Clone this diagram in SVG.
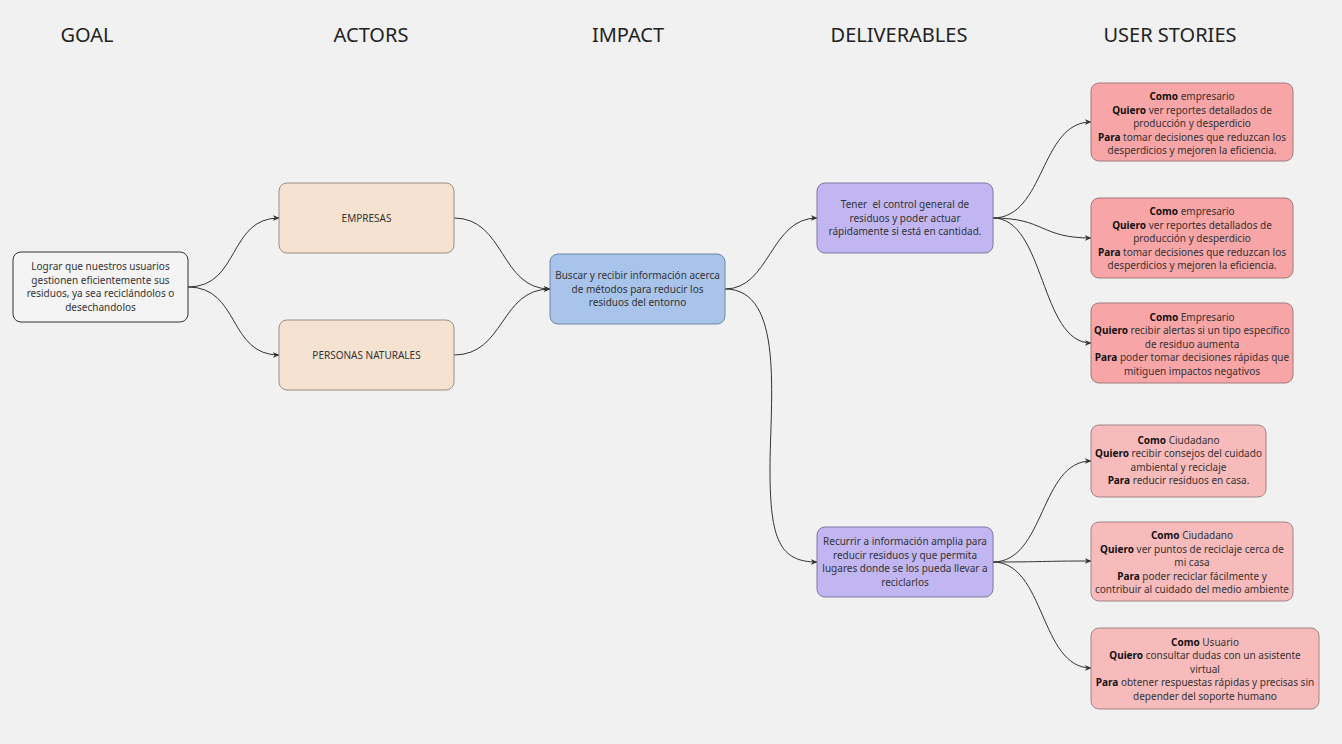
<svg xmlns="http://www.w3.org/2000/svg" width="1342" height="744" viewBox="0 0 1342 744">
<style>
.h{font-family:"Noto Sans","Open Sans",sans-serif;font-size:20px;fill:#222;text-anchor:middle}
.t{font-family:"Noto Sans","Open Sans",sans-serif;font-size:10px;fill:#333;text-anchor:middle}
.b{font-weight:bold;fill:#111}
.e{fill:none;stroke:#333;stroke-width:1;marker-end:url(#a)}
.goal{fill:#f4f4f4;stroke:#333;stroke-width:1}
.act{fill:#f5e2d0;stroke:#9a8f86;stroke-width:1}
.imp{fill:#a9c4eb;stroke:#6f86a8;stroke-width:1}
.del{fill:#c1b6f1;stroke:#7f77a0;stroke-width:1}
.us1{fill:#f8a5a7;stroke:#a07a7b;stroke-width:1}
.us2{fill:#f8bbbc;stroke:#a08485;stroke-width:1}
</style>
<defs>
<marker id="a" viewBox="0 0 10 10" refX="9" refY="5" markerWidth="7" markerHeight="7" orient="auto" markerUnits="userSpaceOnUse">
<path d="M0,1 L10,5 L0,9 L3,5 Z" fill="#333"/>
</marker>
</defs>
<rect width="1342" height="744" fill="#f1f1f1"/>
<g id="headers">
<text class="h" x="87" y="42">GOAL</text>
<text class="h" x="371" y="42">ACTORS</text>
<text class="h" x="628" y="42">IMPACT</text>
<text class="h" x="899" y="42">DELIVERABLES</text>
<text class="h" x="1170" y="42">USER STORIES</text>
</g>
<g id="connectors">
<path class="e" d="M188,287 C240,287 228,218 279,218"/>
<path class="e" d="M188,287 C240,287 228,355 279,355"/>
<path class="e" d="M454,218 C505,218 500,289 550,289"/>
<path class="e" d="M454,355 C505,355 500,289 550,289"/>
<path class="e" d="M725,289 C770,289 770,218 817,218"/>
<path class="e" d="M725,289 C785,289 770,400 770,470 C770,540 780,562 817,562"/>
<path class="e" d="M993,218 C1045,218 1040,122 1091,122"/>
<path class="e" d="M993,218 C1045,218 1040,238 1091,238"/>
<path class="e" d="M993,218 C1045,218 1040,343 1091,343"/>
<path class="e" d="M993,562 C1045,562 1040,461 1091,461"/>
<path class="e" d="M993,562 C1045,562 1040,561 1091,561"/>
<path class="e" d="M993,562 C1045,562 1040,668 1091,668"/>
</g>
<g id="goal">
<rect class="goal" x="13" y="252" width="175" height="70" rx="8"/>
<text class="t" x="100.5" y="270">Lograr que nuestros usuarios</text>
<text class="t" x="100.5" y="283.5">gestionen eficientemente sus</text>
<text class="t" x="100.5" y="297">residuos, ya sea reciclándolos o</text>
<text class="t" x="100.5" y="310.5">desechandolos</text>
</g>
<g id="empresas">
<rect class="act" x="279" y="183" width="175" height="70" rx="8"/>
<text class="t" x="366.5" y="221.5">EMPRESAS</text>
</g>
<g id="personas">
<rect class="act" x="279" y="320" width="175" height="70" rx="8"/>
<text class="t" x="366.5" y="358.5">PERSONAS NATURALES</text>
</g>
<g id="impact">
<rect class="imp" x="550" y="254" width="175" height="70" rx="8"/>
<text class="t" x="637.5" y="279">Buscar y recibir información acerca</text>
<text class="t" x="637.5" y="292.5">de métodos para reducir los</text>
<text class="t" x="637.5" y="306">residuos del entorno</text>
</g>
<g id="deliverable1">
<rect class="del" x="817" y="183" width="176" height="70" rx="8"/>
<text class="t" x="905" y="208">Tener&#160; el control general de</text>
<text class="t" x="905" y="221.5">residuos y poder actuar</text>
<text class="t" x="905" y="235">rápidamente si está en cantidad.</text>
</g>
<g id="deliverable2">
<rect class="del" x="817" y="527" width="176" height="70" rx="8"/>
<text class="t" x="905" y="545">Recurrir a información amplia para</text>
<text class="t" x="905" y="558.5">reducir residuos y que permita</text>
<text class="t" x="905" y="572">lugares donde se los pueda llevar a</text>
<text class="t" x="905" y="585.5">reciclarlos</text>
</g>
<g id="story1">
<rect class="us1" x="1091" y="83" width="202" height="78" rx="8"/>
<text class="t" x="1192" y="100"><tspan class="b">Como</tspan> empresario</text>
<text class="t" x="1192" y="113.5"><tspan class="b">Quiero</tspan> ver reportes detallados de</text>
<text class="t" x="1192" y="127">producción y desperdicio</text>
<text class="t" x="1192" y="140.5"><tspan class="b">Para</tspan> tomar decisiones que reduzcan los</text>
<text class="t" x="1192" y="154">desperdicios y mejoren la eficiencia.</text>
</g>
<g id="story2">
<rect class="us1" x="1091" y="198" width="202" height="80" rx="8"/>
<text class="t" x="1192" y="215"><tspan class="b">Como</tspan> empresario</text>
<text class="t" x="1192" y="228.5"><tspan class="b">Quiero</tspan> ver reportes detallados de</text>
<text class="t" x="1192" y="242">producción y desperdicio</text>
<text class="t" x="1192" y="255.5"><tspan class="b">Para</tspan> tomar decisiones que reduzcan los</text>
<text class="t" x="1192" y="269">desperdicios y mejoren la eficiencia.</text>
</g>
<g id="story3">
<rect class="us1" x="1091" y="303" width="202" height="80" rx="8"/>
<text class="t" x="1192" y="320.5"><tspan class="b">Como</tspan> Empresario</text>
<text class="t" x="1192" y="334"><tspan class="b">Quiero</tspan> recibir alertas si un tipo específico</text>
<text class="t" x="1192" y="347.5">de residuo aumenta</text>
<text class="t" x="1192" y="361"><tspan class="b">Para</tspan> poder tomar decisiones rápidas que</text>
<text class="t" x="1192" y="374.5">mitiguen impactos negativos</text>
</g>
<g id="story4">
<rect class="us2" x="1091" y="425" width="175" height="72" rx="8"/>
<text class="t" x="1178.5" y="443.5"><tspan class="b">Como</tspan> Ciudadano</text>
<text class="t" x="1178.5" y="457"><tspan class="b">Quiero</tspan> recibir consejos del cuidado</text>
<text class="t" x="1178.5" y="470.5">ambiental y reciclaje</text>
<text class="t" x="1178.5" y="484"><tspan class="b">Para</tspan> reducir residuos en casa.</text>
</g>
<g id="story5">
<rect class="us2" x="1091" y="522" width="202" height="79" rx="8"/>
<text class="t" x="1192" y="539"><tspan class="b">Como</tspan> Ciudadano</text>
<text class="t" x="1192" y="552.5"><tspan class="b">Quiero</tspan> ver puntos de reciclaje cerca de</text>
<text class="t" x="1192" y="566">mi casa</text>
<text class="t" x="1192" y="579.5"><tspan class="b">Para</tspan> poder reciclar fácilmente y</text>
<text class="t" x="1192" y="593">contribuir al cuidado del medio ambiente</text>
</g>
<g id="story6">
<rect class="us2" x="1091" y="628" width="228" height="81" rx="8"/>
<text class="t" x="1205" y="645.5"><tspan class="b">Como</tspan> Usuario</text>
<text class="t" x="1205" y="659"><tspan class="b">Quiero</tspan> consultar dudas con un asistente</text>
<text class="t" x="1205" y="672.5">virtual</text>
<text class="t" x="1205" y="686"><tspan class="b">Para</tspan> obtener respuestas rápidas y precisas sin</text>
<text class="t" x="1205" y="699.5">depender del soporte humano</text>
</g>
</svg>
